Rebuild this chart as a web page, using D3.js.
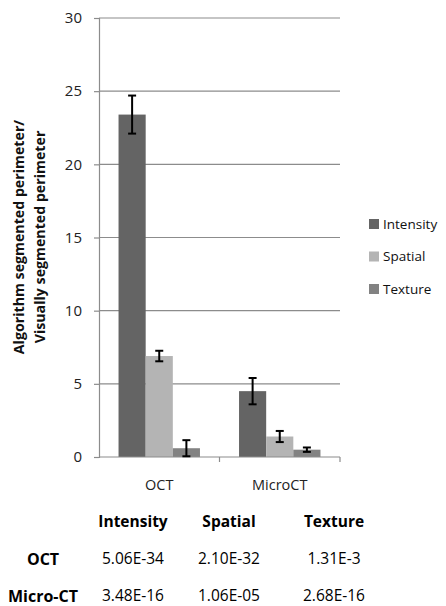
<!DOCTYPE html>
<html>
<head>
<meta charset="utf-8">
<script src="https://cdn.jsdelivr.net/npm/d3@7"></script>
<style>
  body { margin: 0; background: #fff; }
  svg { font-family: "Open Sans", sans-serif; }
</style>
</head>
<body>
<svg id="chart"></svg>
<script>
// chart data
const categories = ["OCT", "MicroCT"];
const seriesNames = ["Intensity", "Spatial", "Texture"];
const intensity = [23.4, 4.5];
const intensityErr = [1.3, 0.9];
const spatial = [6.9, 1.4];
const spatialErr = [0.36, 0.38];
const texture = [0.6, 0.5];
const textureErr = [0.55, 0.15];
const yTicks = [0, 5, 10, 15, 20, 25, 30];

// p-value table below the chart
const tableHeaders = ["Intensity", "Spatial", "Texture"];
const tableRows = ["OCT", "Micro-CT"];
const tableValues = [
  ["5.06E-34", "2.10E-32", "1.31E-3"],
  ["3.48E-16", "1.06E-05", "2.68E-16"]
];

const colors = { Intensity: "#646464", Spatial: "#b4b4b4", Texture: "#828282" };

const values = { Intensity: intensity, Spatial: spatial, Texture: texture };
const errs = { Intensity: intensityErr, Spatial: spatialErr, Texture: textureErr };

const W = 446, H = 606;
const svg = d3.select("#chart").attr("width", W).attr("height", H);

const plotL = 99, plotR = 340, plotT = 18, plotB = 457;

const x = d3.scaleBand().domain(categories).range([plotL, plotR]);
const xs = d3.scaleBand().domain(seriesNames).range([0, x.bandwidth()])
  .paddingInner(0).paddingOuter(0.72);
const y = d3.scaleLinear().domain([0, 30]).range([plotB, plotT]);

// gridlines
svg.append("g").selectAll("line").data(yTicks.filter(d => d > 0)).enter()
  .append("line")
  .attr("x1", plotL).attr("x2", plotR)
  .attr("y1", d => y(d)).attr("y2", d => y(d))
  .attr("stroke", "#8c8c8c").attr("stroke-width", 1.2);

// y axis
const yAxis = svg.append("g")
  .attr("transform", `translate(${plotL},0)`)
  .call(d3.axisLeft(y).tickValues(yTicks).tickSize(5).tickPadding(12));
yAxis.select(".domain").attr("stroke", "#8c8c8c").attr("stroke-width", 1.2);
yAxis.selectAll(".tick line").attr("stroke", "#8c8c8c").attr("stroke-width", 1.2);
yAxis.selectAll("text").attr("font-size", 15).attr("fill", "#222")
  .style("font-family", "'Open Sans', sans-serif");

// bars
const rows = [];
categories.forEach((c, i) => {
  seriesNames.forEach(s => rows.push({ cat: c, s: s, v: values[s][i], e: errs[s][i] }));
});

svg.append("g").selectAll("rect").data(rows).enter()
  .append("rect")
  .attr("x", d => x(d.cat) + xs(d.s))
  .attr("width", xs.bandwidth())
  .attr("y", d => y(d.v))
  .attr("height", d => y(0) - y(d.v))
  .attr("fill", d => colors[d.s]);

// x axis
const xAxis = svg.append("g")
  .attr("transform", `translate(0,${plotB})`)
  .call(d3.axisBottom(x).tickSize(0).tickPadding(23));
xAxis.select(".domain").attr("stroke", "#8c8c8c").attr("stroke-width", 1.2)
  .attr("d", `M${plotL},0H${plotR}`);
xAxis.selectAll("text").attr("font-size", 14.5).attr("fill", "#222")
  .style("font-family", "'Open Sans', sans-serif");
svg.append("g").selectAll("line").data([plotL + x.bandwidth(), plotR]).enter()
  .append("line")
  .attr("x1", d => d).attr("x2", d => d)
  .attr("y1", plotB).attr("y2", plotB + 5)
  .attr("stroke", "#8c8c8c").attr("stroke-width", 1.2);

// error bars
const eb = svg.append("g").attr("stroke", "#000").attr("stroke-width", 2);
rows.forEach(d => {
  const cx = x(d.cat) + xs(d.s) + xs.bandwidth() / 2;
  const y1 = y(d.v + d.e), y2 = y(Math.max(0, d.v - d.e));
  eb.append("line").attr("x1", cx).attr("x2", cx).attr("y1", y1).attr("y2", y2);
  eb.append("line").attr("x1", cx - 4).attr("x2", cx + 4).attr("y1", y1).attr("y2", y1);
  eb.append("line").attr("x1", cx - 4).attr("x2", cx + 4).attr("y1", y2).attr("y2", y2);
});

// y title
const yt = svg.append("text")
  .attr("transform", "translate(24,237) rotate(-90)")
  .attr("text-anchor", "middle")
  .attr("font-size", 14.2).attr("font-weight", "bold").attr("fill", "#111");
yt.append("tspan").attr("x", 0).attr("dy", 0).text("Algorithm segmented perimeter/");
yt.append("tspan").attr("x", 0).attr("dy", 21).text("Visually segmented perimeter");

// legend
const lg = svg.append("g").selectAll("g").data(seriesNames).enter()
  .append("g")
  .attr("transform", (d, i) => `translate(369,${224 + i * 32.5})`);
lg.append("rect").attr("x", 0).attr("y", -5).attr("width", 10).attr("height", 10)
  .attr("fill", d => colors[d]);
lg.append("text").attr("x", 14).attr("y", 0).attr("dy", "0.35em")
  .attr("font-size", 13.5).attr("fill", "#111").text(d => d);

// table
const colX = [133, 229, 334];
const rowY = [559, 596];
const tbl = svg.append("g").attr("text-anchor", "middle").attr("fill", "#000");
tbl.selectAll(".hdr").data(tableHeaders).enter()
  .append("text").attr("class", "hdr")
  .attr("x", (d, i) => colX[i]).attr("y", 522).attr("dy", "0.35em")
  .attr("font-size", 15.5).attr("font-weight", "bold").text(d => d);
tbl.selectAll(".rl").data(tableRows).enter()
  .append("text").attr("class", "rl")
  .attr("x", 43).attr("y", (d, i) => rowY[i]).attr("dy", "0.35em")
  .attr("font-size", 16).attr("font-weight", "bold").text(d => d);
tableValues.forEach((r, i) => {
  tbl.selectAll(".v" + i).data(r).enter()
    .append("text").attr("class", "v" + i)
    .attr("x", (d, j) => colX[j]).attr("y", rowY[i]).attr("dy", "0.35em")
    .attr("font-size", 15.5).text(d => d);
});
</script>
</body>
</html>
